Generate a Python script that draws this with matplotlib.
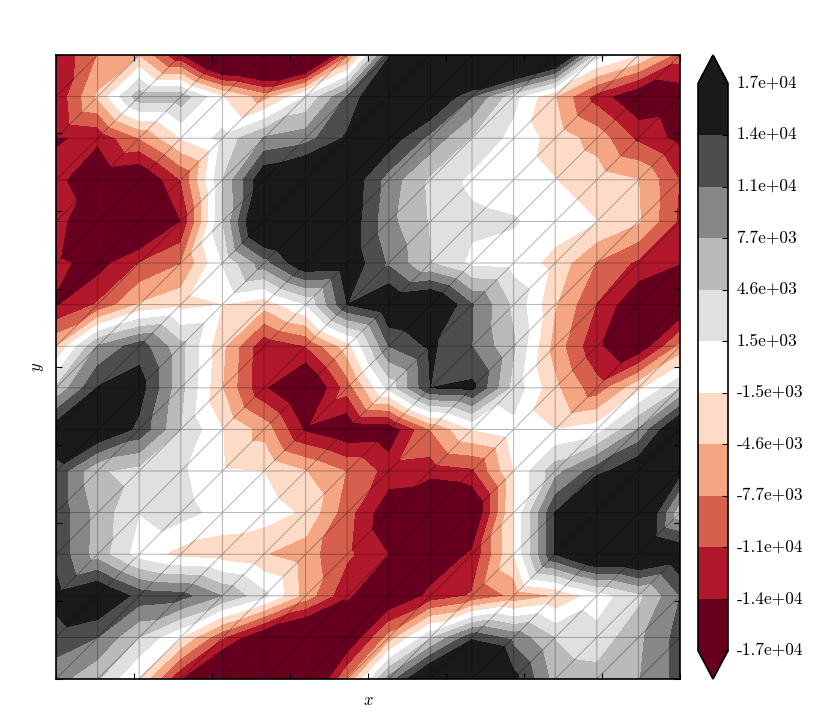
import numpy as np
import matplotlib
matplotlib.use("Agg")
import matplotlib.pyplot as plt
import matplotlib.tri as mtri
from matplotlib.transforms import ScaledTranslation

plt.rcParams['font.family'] = ['cmr10', 'DejaVu Serif']
plt.rcParams['mathtext.fontset'] = 'cm'
plt.rcParams['axes.unicode_minus'] = False

# field values in thousands, one list per grid row, top row first
row00 = [-13.5, -7.7, -5, -14, -26, -28, -27, -9, 13.5, 22, 30, 30, 22.5, 3, -1.5, -9.3]
row01 = [-13.4, -4.2, 6.5, 6.5, -1.5, -6.2, 1.6, 11, 20, 18.8, 10.8, 2.5, -4.6, -12.2, -17.3, -16.3]
row02 = [-14.2, -13.3, -7.7, -1.5, 2.5, 8, 9.5, 14.5, 16, 9.8, 4.3, 0.5, -2.8, -6, -11.5, -15]
row03 = [-13, -16.9, -18, -10.8, 4.6, 17, 20, 16.8, 9.4, 4, 0.8, 0, -1.5, -3, -4.6, -11]
row04 = [-11, -22, -21, -14, 4.5, 21, 24, 16.5, 8.6, 4.3, 2.3, 1.8, 0, -1.5, -4.3, -11.5]
row05 = [-13, -15.5, -10.8, -7.9, 1.7, 9.5, 17, 16.5, 10.3, 4.7, 0.8, 0.3, -2.6, -8, -11.5, -13.8]
row06 = [-14.3, -10.5, -4.4, -2.5, -1.6, -3.5, 1.5, 13.9, 17.5, 19, 11, 4, -4.4, -11, -17.2, -18]
row07 = [-5, 8, 12.5, 5.5, -4, -13.3, -10.9, -3, 10.8, 14.5, 10.8, 5, -6, -13.4, -17, -7]
row08 = [5, 14, 15.5, 5.5, -4.6, -13.6, -19, -9.5, 2.5, 13.9, 14.7, 3.5, -4, -9.7, -2.5, 4.5]
row09 = [16, 18, 13, 4.6, -1.5, -6, -14.5, -17, -16.5, -7.7, -1.5, 0.5, -1.6, 0, 8, 19]
row10 = [13, 5, 3.5, 2.1, -1.3, -1.6, -4.6, -8, -12, -12.5, -11.5, -1.6, 6.5, 12.5, 17, 15]
row11 = [13, 6.5, 1.6, 2.8, 0.3, 0, -2.1, -9.6, -16.5, -21, -18.5, -1.5, 14, 26, 20.7, 5.5]
row12 = [13, 6.3, 0, -2.6, -3.2, -4.5, -6.5, -10.2, -14, -17, -13.4, -1.5, 14, 20, 20, 17]
row13 = [15, 18, 12.7, 12, 7.6, 2.4, -6, -13.4, -18, -13, -10.5, -7, -4.6, 0, 3.7, 10.8]
row14 = [12.5, 10.8, 4.5, -1.5, -10.5, -18, -21.8, -18, -6.6, 4, 13, 9.8, 4.5, 2.5, 7, 12]
row15 = [9, 5, -2, -14, -23, -27, -22, -7.7, 9, 20, 28, 15, 6.5, 6, 7.5, 12]

rows = [row00, row01, row02, row03, row04, row05, row06, row07,
        row08, row09, row10, row11, row12, row13, row14, row15]
levels = np.linspace(-17000, 17000, 12)

Z = np.array(rows) * 1000.0
n = Z.shape[0]
xs = np.linspace(0, 1, n)
ys = np.linspace(1, 0, n)
X, Y = np.meshgrid(xs, ys)

# every cell is split along its lower left to upper right diagonal
triangles = []
for j in range(n - 1):
    for i in range(n - 1):
        tl = j * n + i
        tr = tl + 1
        bl = tl + n
        br = bl + 1
        triangles.append([tl, bl, tr])
        triangles.append([tr, bl, br])
tri = mtri.Triangulation(X.ravel(), Y.ravel(), triangles)

W, H = 830.0, 727.0
fig = plt.figure(figsize=(8.3, 7.27), dpi=100)
ax = fig.add_axes([56 / W, (H - 679) / H, 624 / W, 624 / H])

cs = ax.tricontourf(tri, Z.ravel(), levels=levels, cmap=plt.get_cmap('RdGy', 11), extend='both')
ax.triplot(tri, 'k-', lw=0.7, alpha=0.3)

ax.set_xlim(0, 1)
ax.set_ylim(0, 1)
ax.set_xticks(np.linspace(0, 1, 9))
ax.set_yticks(np.linspace(0, 1, 9))
ax.set_xticklabels([])
ax.set_yticklabels([])
ax.tick_params(direction='in', top=True, right=True, length=4, width=0.8)
ax.set_xlabel('$x$', fontsize=12, labelpad=6)
ax.set_ylabel('$y$', fontsize=12, labelpad=4)
for s in ax.spines.values():
    s.set_linewidth(1.2)

cax = fig.add_axes([698 / W, (H - 679) / H, 30 / W, 624 / H])
cb = fig.colorbar(cs, cax=cax, format='%.1e', ticks=levels)
cb.ax.tick_params(direction='in', length=4, width=0.8, labelsize=12.5, pad=6)
cb.outline.set_linewidth(1.2)
up = ScaledTranslation(0, 2 / 100.0, fig.dpi_scale_trans)
for lab in cb.ax.get_yticklabels():
    lab.set_transform(lab.get_transform() + up)

fig.savefig('out.png', dpi=100)
